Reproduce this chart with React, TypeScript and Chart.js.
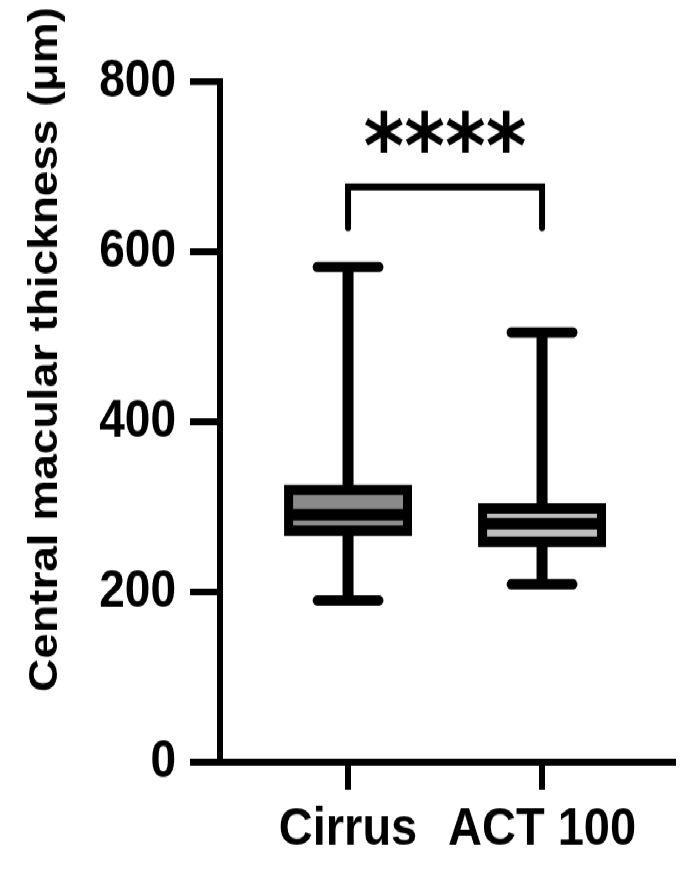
import React, { useEffect, useRef } from "react";
import { Chart, registerables } from "chart.js";

Chart.register(...registerables);

const categories = ["Cirrus", "ACT 100"];
const positions = [1, 2];
const minValues = [190, 209];
const q1Values = [272, 259];
const medianValues = [291, 280];
const q3Values = [320, 298];
const maxValues = [582, 505];
const fillColors = ["#8a8a8a", "#bdbdbd"];
const yTicks = [0, 200, 400, 600, 800];
const yTitle = "Central macular thickness (μm)";
const significance = "****";

const W = 692;
const H = 756;
const STRETCH = 869 / 756;
const FONT = "'Liberation Sans', Arial, sans-serif";

const boxPlugin = {
  id: "boxDecor",
  afterDatasetsDraw(chart: any) {
    const { ctx } = chart;
    const x = chart.scales.x;
    const y = chart.scales.y;
    const meta = chart.getDatasetMeta(0);
    ctx.save();
    ctx.strokeStyle = "#000";
    meta.data.forEach((bar: any, i: number) => {
      const cx = x.getPixelForValue(positions[i]);
      const half = bar.width / 2;
      const yMin = y.getPixelForValue(minValues[i]);
      const yMax = y.getPixelForValue(maxValues[i]);
      const yQ1 = y.getPixelForValue(q1Values[i]);
      const yQ3 = y.getPixelForValue(q3Values[i]);
      const yMed = y.getPixelForValue(medianValues[i]);
      // whiskers
      ctx.lineCap = "butt";
      ctx.lineWidth = 11;
      ctx.beginPath();
      ctx.moveTo(cx, yQ3);
      ctx.lineTo(cx, yMax);
      ctx.moveTo(cx, yQ1);
      ctx.lineTo(cx, yMin);
      ctx.stroke();
      // caps
      const capHalf = half * 0.52;
      ctx.lineCap = "round";
      ctx.lineWidth = 9;
      ctx.beginPath();
      ctx.moveTo(cx - capHalf, yMax);
      ctx.lineTo(cx + capHalf, yMax);
      ctx.moveTo(cx - capHalf, yMin);
      ctx.lineTo(cx + capHalf, yMin);
      ctx.stroke();
      // box outline
      ctx.lineCap = "butt";
      ctx.lineJoin = "miter";
      ctx.lineWidth = 9;
      ctx.strokeRect(cx - half, yQ3, half * 2, yQ1 - yQ3);
      // median
      ctx.lineWidth = 10;
      ctx.beginPath();
      ctx.moveTo(cx - half, yMed);
      ctx.lineTo(cx + half, yMed);
      ctx.stroke();
    });

    // significance bracket
    const xa = x.getPixelForValue(positions[0]);
    const xb = x.getPixelForValue(positions[1]);
    const yBr = y.getPixelForValue(676);
    const yEnd = y.getPixelForValue(628);
    ctx.lineWidth = 6;
    ctx.lineCap = "round";
    ctx.lineJoin = "miter";
    ctx.beginPath();
    ctx.moveTo(xa, yEnd);
    ctx.lineTo(xa, yBr);
    ctx.lineTo(xb, yBr);
    ctx.lineTo(xb, yEnd);
    ctx.stroke();
    ctx.fillStyle = "#000";
    ctx.font = "bold 78px 'DejaVu Sans', sans-serif";
    ctx.textAlign = "center";
    ctx.textBaseline = "alphabetic";
    ctx.fillText(significance, (xa + xb) / 2, y.getPixelForValue(738) + 38);

    // y title
    ctx.save();
    ctx.translate(46, 304);
    ctx.rotate(-Math.PI / 2);
    ctx.font = `bold 40px ${FONT}`;
    ctx.textAlign = "center";
    ctx.textBaseline = "middle";
    ctx.fillText(yTitle, 0, 0);
    ctx.restore();
    ctx.restore();
  },
};

export default function App() {
  const ref = useRef<HTMLCanvasElement | null>(null);
  useEffect(() => {
    if (!ref.current) return;
    const chart = new Chart(ref.current, {
      type: "bar",
      data: {
        datasets: [
          {
            data: positions.map((p, i) => ({ x: p, y: [q1Values[i], q3Values[i]] })) as any,
            backgroundColor: fillColors,
            borderWidth: 0,
            barPercentage: 0.613,
            categoryPercentage: 1,
          },
        ],
      },
      options: {
        animation: false,
        responsive: false,
        devicePixelRatio: 1,
        layout: { padding: { left: 0, right: 19, top: 71, bottom: 0 } },
        plugins: { legend: { display: false }, tooltip: { enabled: false } },
        scales: {
          x: {
            type: "linear",
            offset: false,
            min: 0.34,
            max: 2.675,
            afterBuildTicks: (scale: any) => {
              scale.ticks = positions.map((p) => ({ value: p }));
            },
            afterFit: (scale: any) => {
              scale.height = H - 663;
            },
            ticks: {
              callback: (v: any) => categories[positions.indexOf(Number(v))] ?? "",
              font: { family: FONT, size: 47, weight: "bold" },
              color: "#000",
              padding: 7,
              maxRotation: 0,
              autoSkip: false,
            },
            grid: {
              display: true,
              offset: false,
              drawOnChartArea: false,
              drawTicks: true,
              tickLength: 24,
              lineWidth: 6,
              color: "#000",
            },
            border: { display: true, width: 6, color: "#000" },
          },
          y: {
            min: 0,
            max: 800,
            afterBuildTicks: (scale: any) => {
              scale.ticks = yTicks.map((v) => ({ value: v }));
            },
            afterFit: (scale: any) => {
              scale.width = 220;
            },
            ticks: {
              font: { family: FONT, size: 46, weight: "bold" },
              color: "#000",
              padding: 14,
            },
            grid: {
              display: true,
              drawOnChartArea: false,
              drawTicks: true,
              tickLength: 30,
              lineWidth: 6,
              color: "#000",
            },
            border: { display: true, width: 6, color: "#000" },
          },
        },
      },
      plugins: [boxPlugin],
    });
    return () => chart.destroy();
  }, []);

  return (
    <div
      style={{
        position: "fixed",
        left: 0,
        top: 0,
        width: W,
        height: H,
        transform: `scaleY(${STRETCH})`,
        transformOrigin: "0 0",
        background: "#fff",
      }}
    >
      <canvas ref={ref} width={W} height={H} style={{ width: W + "px", height: H + "px", display: "block" }} />
    </div>
  );
}
